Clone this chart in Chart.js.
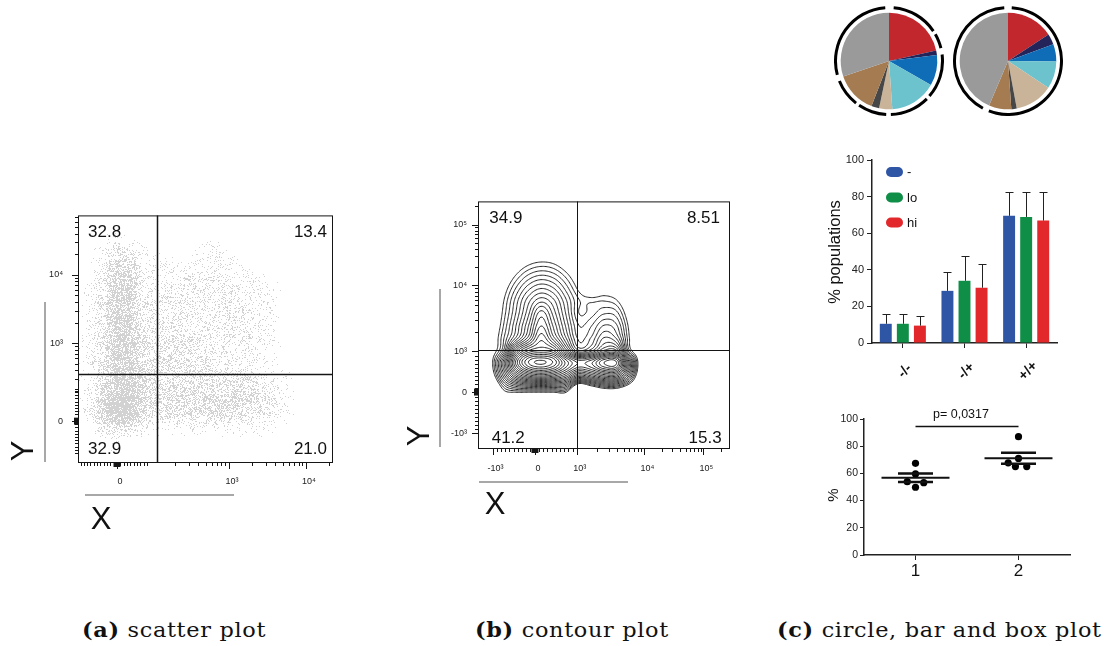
<!DOCTYPE html>
<html>
<head>
<meta charset="utf-8">
<title>Flow cytometry panels</title>
<script src="https://cdn.jsdelivr.net/npm/chart.js@4.4.1/dist/chart.umd.min.js"></script>
<style>
  html, body { margin: 0; padding: 0; background: #fff; }
  body { width: 1104px; height: 646px; position: relative; overflow: hidden; }
  canvas { position: absolute; }
  .cap { position: absolute; top: 620px; font: 20px 'DejaVu Serif', serif; line-height: 20px; letter-spacing: 0.6px;
         color: #111; white-space: nowrap; transform: scaleX(1.12); transform-origin: 0 0; }
  .cap b { font-weight: bold; }
</style>
</head>
<body>
<canvas id="scatter" width="345" height="345" style="left:0px;top:195px"></canvas>
<canvas id="contour" width="345" height="345" style="left:400px;top:185px"></canvas>
<canvas id="pieA" width="110" height="110" style="left:834px;top:6px"></canvas>
<canvas id="pieB" width="110" height="110" style="left:953px;top:6px"></canvas>
<canvas id="bars" width="260" height="250" style="left:810px;top:140px"></canvas>
<canvas id="dots" width="265" height="190" style="left:810px;top:400px"></canvas>
<div class="cap" style="left:82px"><b>(a)</b> scatter plot</div>
<div class="cap" style="left:475px"><b>(b)</b> contour plot</div>
<div class="cap" style="left:777px"><b>(c)</b> circle, bar and box plot</div>
<script>
// ---- (a) event density, rows from y=100 down to y=0, columns x=0..100 (step 5), 0-9
const scatterDensity = [
  '000000000000000000000',
  '000000000000000000000',
  '000100000000000000000',
  '001321000011000000000',
  '002551111111100000000',
  '002662111222111000000',
  '012772122222211100000',
  '013772222222211100000',
  '013773222222221100000',
  '013773232222221100000',
  '013774233322221100000',
  '013774333322221000000',
  '013774333332221100000',
  '014875433333332110000',
  '015886444444443210000',
  '017996444455554210000',
  '017995344444443210000',
  '003542111111111100000',
  '000100000000000000000',
  '000000000000000000000',
  '000000000000000000000',
];
const scatterXTicks = [15.3, 59.2, 89.4];
const scatterXLabels = ['0', '10³', '10⁴'];
const scatterYTicks = [16.9, 48.4, 76];
const scatterYLabels = ['0', '10³', '10⁴'];
const scatterGate = [31, 35.8];
const scatterQuadrants = ['32.8', '13.4', '32.9', '21.0'];

// ---- (b) contour level field on a 5-unit grid
const contourNodeX = [0, 5, 10, 15, 20, 25, 30, 35, 40, 45, 50, 55, 60, 65, 70];
const contourNodeY = [80, 75, 70, 65, 60, 55, 50, 45, 40, 35, 30, 25, 20, 15];
const contourField = [
  [-11.5, -8.6, -6.0, -3.9, -2.5, -1.9, -2.3, -3.6, -5.6, -8.1, -7.5, -8.0, -9.7, -12.5, -16],
  [-9.9, -6.8, -4.0, -1.6, 0.1, 0.8, 0.4, -1.2, -3.5, -6.2, -5.3, -5.8, -7.8, -10.9, -14.6],
  [-8.6, -5.3, -2.2, 0.6, 2.7, 3.6, 3.0, 1.1, -1.6, -4.5, -3.2, -3.7, -6.0, -9.3, -13.3],
  [-7.6, -4.1, -0.7, 2.5, 5.1, 6.4, 5.5, 3.0, 0.0, -2.5, -1.0, -1.7, -4.3, -8.0, -12.2],
  [-6.8, -3.3, 0.3, 3.9, 7.1, 9.1, 7.7, 4.6, 1.6, 1.2, 1.4, 0.6, -2.7, -6.8, -11.2],
  [-6.7, -3.0, 0.8, 4.5, 8.2, 11.9, 9.0, 5.3, 1.5, 2.0, 3.3, 2.8, -1.2, -5.8, -10.0],
  [-6.6, -2.6, 1.4, 5.4, 9.4, 13.4, 10.2, 6.2, 2.5, 3.4, 5.5, 4.6, 0.0, -5.0, -9.5],
  [-6.4, -2.1, 2.2, 6.5, 10.8, 15.1, 11.7, 7.4, 3.2, 4.6, 7.5, 6.2, 0.6, -4.6, -9.0],
  [-6.2, -1.6, 3.2, 12.2, 16.2, 17.2, 16.2, 10.6, 5.3, 6.8, 10.3, 10.3, 1.5, -3.5, -10.0],
  [-10.0, -0.9, 7.7, 16.7, 21.5, 22.8, 21.3, 17.1, 14.3, 15.3, 18.5, 18.5, 8.5, -3.0, -13.0],
  [-10.0, -2.0, 5.9, 12.2, 15.5, 16.5, 15.5, 12.9, 8.8, 10.3, 12.4, 12.4, 5.8, -4.0, -14.0],
  [-14.0, -6.0, 1.4, 4.0, 4.8, 5.0, 4.8, 4.2, -3.0, -0.6, 1.6, 1.6, -1.8, -8.0, -18.0],
  [-16.0, -10.0, -3.1, -4.3, -5.4, -5.7, -5.4, -4.6, -14.8, -11.5, -9.3, -9.3, -14.0, -16.0, -20.0],
  [-22, -18, -8, -12, -15, -16, -15, -13, -25, -22, -20, -20, -24, -25, -26],
];
const contourLevels = [0.5, 1.5, 2.5, 3.5, 4.5, 5.5, 6.5, 7.5, 8.5, 9.5, 10.5, 11.5,
  12.5, 13.5, 14.5, 15.5, 16.5, 17.5, 18.5, 19.5, 20.5, 21.5, 22.5];
const contourXTicks = [5.8, 22.6, 39.2, 66, 89.4];
const contourXLabels = ['-10³', '0', '10³', '10⁴', '10⁵'];
const contourYTicks = [6.3, 23, 39.4, 66.1, 90.6];
const contourYLabels = ['-10³', '0', '10³', '10⁴', '10⁵'];
const contourGate = [39.2, 39.8];
const contourQuadrants = ['34.9', '8.51', '41.2', '15.3'];

// ---- (c) subset composition, percent per slice clockwise from 12 o'clock
const subsetColors = ['#c1272d', '#24245a', '#0f6db7', '#6cc3cd', '#c9b399', '#474747', '#a57b51', '#9a9a9a'];
const pieLeft = [21.5, 1.5, 10.3, 15.6, 4.4, 2.6, 13.9, 30.2];
const pieRight = [15.8, 3.6, 5.8, 9.1, 12.8, 1.8, 7.5, 43.6];
// outer ring, degrees: gap, arc, gap, arc ...
const ringLeft = [5, 51, 4, 16, 7, 48, 4, 43, 5, 31, 4, 30, 7, 101, 4];
const ringRight = [4, 197, 7, 148, 4];

const genotypes = ['-/-', '-/+', '+/+'];
const seriesNames = ['-', 'lo', 'hi'];
const seriesColors = ['#2f55a5', '#0e8e46', '#e3282b'];
const negMeans = [10.5, 28.5, 69.5];
const negSd = [5.3, 10.2, 12.9];
const loMeans = [10.5, 34.0, 68.9];
const loSd = [5.3, 13.3, 13.8];
const hiMeans = [9.5, 30.2, 66.9];
const hiSd = [5.0, 12.9, 15.8];

const groupNames = ['1', '2'];
const group1X = [1, 1, 0.92, 1.08, 1];
const group1Y = [67.4, 59.6, 53.9, 53.2, 49.8];
const group2X = [2, 2, 1.9, 1.97, 2.08];
const group2Y = [87, 71, 67.8, 65, 65];
const pValueLabel = 'p= 0,0317';

// ---------------------------------------------------------------
Chart.defaults.font.family = "'Liberation Sans', Arial, sans-serif";
Chart.defaults.color = '#222';
Chart.defaults.animation = false;
Chart.defaults.events = [];
Chart.defaults.plugins.legend.display = false;
Chart.defaults.plugins.tooltip.enabled = false;

const SANS = "'Liberation Sans', Arial, sans-serif";

function decadeMinors(decades) {
  const out = [];
  decades.forEach(([a, b]) => {
    for (let m = 2; m <= 9; m++) out.push(a + (b - a) * Math.log10(m));
  });
  return out;
}
function evenMinors(from, to, n) {
  const out = [];
  for (let k = 0; k <= n; k++) out.push(from + ((to - from) * k) / n);
  return out;
}

// deterministic per-pixel threshold so the density reads as single events
function speckle(px, py) {
  let h = Math.imul(px, 374761393) ^ Math.imul(py, 668265263);
  h = Math.imul(h ^ (h >>> 13), 1274126177);
  h ^= h >>> 16;
  return (h >>> 0) / 4294967296;
}

function densityAt(xv, yv) {
  const gx = xv / 5, gy = (100 - yv) / 5;
  const i = Math.floor(gx), j = Math.floor(gy);
  if (i < 0 || j < 0 || i >= 20 || j >= 20) return 0;
  const fx = gx - i, fy = gy - j;
  const d = (r, c) => +scatterDensity[r][c];
  return (d(j, i) * (1 - fx) + d(j, i + 1) * fx) * (1 - fy) +
    (d(j + 1, i) * (1 - fx) + d(j + 1, i + 1) * fx) * fy;
}

function drawEvents(chart) {
  const { ctx, chartArea: a, scales: { x, y } } = chart;
  const left = Math.round(a.left), top = Math.round(a.top);
  const w = Math.round(a.right) - left, h = Math.round(a.bottom) - top;
  const img = ctx.getImageData(left, top, w, h);
  for (let py = 0; py < h; py++) {
    const yv = y.getValueForPixel(top + py + 0.5);
    for (let px = 0; px < w; px++) {
      const d = densityAt(x.getValueForPixel(left + px + 0.5), yv) / 10;
      if (d > 0 && speckle(left + px, top + py) < d) {
        const k = (py * w + px) * 4;
        img.data[k] = img.data[k + 1] = img.data[k + 2] = 210;
        img.data[k + 3] = 255;
      }
    }
  }
  ctx.putImageData(img, left, top);
}

function catmull(p0, p1, p2, p3, t) {
  return 0.5 * (2 * p1 + (p2 - p0) * t + (2 * p0 - 5 * p1 + 4 * p2 - p3) * t * t +
    (3 * p1 - p0 - 3 * p2 + p3) * t * t * t);
}
function fieldAt(xv, yv) {
  const nx = contourNodeX.length, ny = contourNodeY.length;
  const gx = (xv - contourNodeX[0]) / 5, gy = (contourNodeY[0] - yv) / 5;
  const i = Math.min(Math.max(Math.floor(gx), 0), nx - 2);
  const j = Math.min(Math.max(Math.floor(gy), 0), ny - 2);
  const t = gx - i, u = gy - j;
  const node = (c, r) => contourField[Math.min(Math.max(r, 0), ny - 1)][Math.min(Math.max(c, 0), nx - 1)];
  const rows = [];
  for (let r = j - 1; r <= j + 2; r++) {
    rows.push(catmull(node(i - 1, r), node(i, r), node(i + 1, r), node(i + 2, r), t));
  }
  return catmull(rows[0], rows[1], rows[2], rows[3], u);
}

function drawContours(chart) {
  const { ctx, scales: { x, y } } = chart;
  const step = 0.5;
  const xs = [], ys = [];
  for (let v = 0; v <= 70; v += step) xs.push(v);
  for (let v = 15; v <= 80; v += step) ys.push(v);
  const f = ys.map((yv) => xs.map((xv) => fieldAt(xv, yv)));
  ctx.save();
  ctx.beginPath();
  const seg = (p, q) => {
    ctx.moveTo(x.getPixelForValue(p[0]), y.getPixelForValue(p[1]));
    ctx.lineTo(x.getPixelForValue(q[0]), y.getPixelForValue(q[1]));
  };
  contourLevels.forEach((L) => {
    for (let r = 0; r < ys.length - 1; r++) {
      for (let c = 0; c < xs.length - 1; c++) {
        const vals = [f[r][c], f[r][c + 1], f[r + 1][c + 1], f[r + 1][c]];
        const pts = [[xs[c], ys[r]], [xs[c + 1], ys[r]], [xs[c + 1], ys[r + 1]], [xs[c], ys[r + 1]]];
        const cross = [];
        let n = 0;
        for (let k = 0; k < 4; k++) {
          const a = vals[k], b = vals[(k + 1) % 4];
          if ((a > L) !== (b > L)) {
            const t = (L - a) / (b - a);
            const pa = pts[k], pb = pts[(k + 1) % 4];
            cross[k] = [pa[0] + (pb[0] - pa[0]) * t, pa[1] + (pb[1] - pa[1]) * t];
            n++;
          }
        }
        if (n === 2) {
          const ks = [0, 1, 2, 3].filter((k) => cross[k]);
          seg(cross[ks[0]], cross[ks[1]]);
        } else if (n === 4) {
          const centre = (vals[0] + vals[1] + vals[2] + vals[3]) / 4 > L;
          for (let k = 0; k < 4; k++) {
            if ((vals[k] > L) !== centre) seg(cross[(k + 3) % 4], cross[k]);
          }
        }
      }
    }
  });
  ctx.strokeStyle = '#111';
  ctx.lineWidth = 0.9;
  ctx.stroke();
  ctx.restore();
}

function drawFacsFrame(chart, o) {
  const { ctx, chartArea: a, scales: { x, y } } = chart;
  ctx.save();
  ctx.strokeStyle = '#151515';
  ctx.fillStyle = '#151515';

  const gx = Math.round(x.getPixelForValue(o.gate[0])) + 0.5;
  const gy = Math.round(y.getPixelForValue(o.gate[1])) + 0.5;
  ctx.lineWidth = o.gateWidth;
  ctx.beginPath();
  ctx.moveTo(gx, a.top); ctx.lineTo(gx, a.bottom);
  ctx.moveTo(a.left, gy); ctx.lineTo(a.right, gy);
  ctx.stroke();

  ctx.lineWidth = 1;
  ctx.strokeRect(a.left + 0.5, a.top + 0.5, a.right - a.left - 1, a.bottom - a.top - 1);

  // axis tick marks, outside the frame
  ctx.beginPath();
  const inRange = (v) => v >= 0 && v <= 100;
  o.xMinor.filter(inRange).forEach((v) => {
    const p = Math.round(x.getPixelForValue(v)) + 0.5;
    ctx.moveTo(p, a.bottom); ctx.lineTo(p, a.bottom + 3);
  });
  o.xTicks.forEach((v) => {
    const p = Math.round(x.getPixelForValue(v)) + 0.5;
    ctx.moveTo(p, a.bottom); ctx.lineTo(p, a.bottom + 6);
  });
  o.yMinor.filter(inRange).forEach((v) => {
    const p = Math.round(y.getPixelForValue(v)) + 0.5;
    ctx.moveTo(a.left, p); ctx.lineTo(a.left - 3, p);
  });
  o.yTicks.forEach((v) => {
    const p = Math.round(y.getPixelForValue(v)) + 0.5;
    ctx.moveTo(a.left, p); ctx.lineTo(a.left - 6, p);
  });
  ctx.stroke();
  const zx = x.getPixelForValue(o.xTicks[o.zeroIndex[0]]);
  const zy = y.getPixelForValue(o.yTicks[o.zeroIndex[1]]);
  ctx.fillRect(zx - 3.5, a.bottom, 7, 4);
  ctx.fillRect(a.left - 4, zy - 3.5, 4, 7);

  // quadrant frequencies
  const q = o.quadInset;
  ctx.font = '17px ' + SANS;
  ctx.fillStyle = '#111';
  ctx.textBaseline = 'alphabetic';
  ctx.textAlign = 'left';
  ctx.fillText(o.quadrants[0], a.left + q.tl[0], a.top + q.tl[1]);
  ctx.fillText(o.quadrants[2], a.left + q.bl[0], a.bottom - q.bl[1]);
  ctx.textAlign = 'right';
  ctx.fillText(o.quadrants[1], a.right - q.tr[0], a.top + q.tr[1]);
  ctx.fillText(o.quadrants[3], a.right - q.br[0], a.bottom - q.br[1]);

  // parameter bars and names
  const m = o.marks;
  ctx.strokeStyle = '#8c8c8c';
  ctx.lineWidth = 1.5;
  ctx.beginPath();
  ctx.moveTo(m.yLine[0], m.yLine[1]); ctx.lineTo(m.yLine[0], m.yLine[2]);
  ctx.moveTo(m.xLine[0], m.xLine[2]); ctx.lineTo(m.xLine[1], m.xLine[2]);
  ctx.stroke();
  ctx.fillStyle = '#111';
  ctx.font = '31px ' + SANS;
  ctx.textAlign = 'center';
  ctx.fillText('X', m.xGlyph[0], m.xGlyph[1] + 11);
  ctx.translate(m.yGlyph[0], m.yGlyph[1]);
  ctx.rotate(-Math.PI / 2);
  ctx.fillText('Y', 0, 11);
  ctx.restore();
}

function facsChart(id, o) {
  const axis = (vals, labels, pad, fit, shift) => ({
    type: 'linear',
    min: 0,
    max: 100,
    afterBuildTicks: (s) => { s.ticks = vals.map((value) => ({ value })); },
    afterFit: fit,
    ticks: {
      callback: (v, i) => labels[i],
      font: { size: 9 },
      color: '#222',
      padding: pad,
      labelOffset: shift,
      maxRotation: 0,
      autoSkip: false,
    },
    grid: { display: false, drawTicks: false },
    border: { display: false },
  });
  return new Chart(document.getElementById(id), {
    type: 'scatter',
    data: { datasets: [{ data: [], pointRadius: 0 }] },
    options: {
      responsive: false,
      layout: { padding: o.padding },
      scales: {
        x: axis(o.xTicks, o.xLabels, o.xPad, (s) => { s.height = 30; }, 3),
        y: axis(o.yTicks, o.yLabels, o.yPad, (s) => { s.width = o.yWidth; }, 0),
      },
    },
    plugins: [{
      id: 'facs',
      beforeDatasetsDraw: (chart) => o.body(chart),
      afterDraw: (chart) => drawFacsFrame(chart, o),
    }],
  });
}

facsChart('scatter', {
  padding: { left: 48, right: 12, top: 14, bottom: 47 },
  yWidth: 30,
  xPad: 13,
  yPad: 15,
  xTicks: scatterXTicks,
  xLabels: scatterXLabels,
  yTicks: scatterYTicks,
  yLabels: scatterYLabels,
  xMinor: evenMinors(1, 27, 20).concat(decadeMinors([[29, 59.2], [59.2, 89.4], [89.4, 119.6]])),
  yMinor: evenMinors(4, 30, 20).concat(decadeMinors([[20.8, 48.4], [48.4, 76], [76, 103.6]])),
  zeroIndex: [0, 0],
  gate: scatterGate,
  gateWidth: 1.5,
  quadrants: scatterQuadrants,
  quadInset: { tl: [10, 22], tr: [6, 22], bl: [10, 9], br: [6, 9] },
  marks: { yLine: [45, 107, 267], xLine: [85, 234, 300], yGlyph: [21.5, 256], xGlyph: [101, 323] },
  body: drawEvents,
});

facsChart('contour', {
  padding: { left: 46, right: 15, top: 15, bottom: 51 },
  yWidth: 32,
  xPad: 14,
  yPad: 11,
  xTicks: contourXTicks,
  xLabels: contourXLabels,
  yTicks: contourYTicks,
  yLabels: contourYLabels,
  xMinor: evenMinors(5.8, 39.2, 20).concat(decadeMinors([[39.2, 66], [66, 89.4], [89.4, 112.8]])),
  yMinor: evenMinors(6.3, 39.4, 20).concat(decadeMinors([[39.4, 66.1], [66.1, 90.6], [90.6, 115.1]])),
  zeroIndex: [1, 1],
  gate: contourGate,
  gateWidth: 1,
  quadrants: contourQuadrants,
  quadInset: { tl: [11.3, 21.7], tr: [10, 21.7], bl: [13.7, 5.7], br: [8.3, 5.7] },
  marks: { yLine: [40, 104, 262], xLine: [79, 228, 297], yGlyph: [17.5, 251], xGlyph: [95, 318] },
  body: drawContours,
});

// ---- pies with segmented outer ring
function pieChart(id, slices, ring) {
  return new Chart(document.getElementById(id), {
    type: 'doughnut',
    data: {
      datasets: [
        { data: ring, backgroundColor: ring.map((_, i) => (i % 2 ? '#000' : 'rgba(0,0,0,0)')), borderWidth: 0, weight: 3 },
        { data: [1], backgroundColor: 'rgba(0,0,0,0)', borderWidth: 0, weight: 3.7 },
        { data: slices, backgroundColor: subsetColors, borderWidth: 0, weight: 48.3 },
      ],
    },
    options: { responsive: false, cutout: 0, layout: { padding: 0 } },
  });
}
pieChart('pieA', pieLeft, ringLeft);
pieChart('pieB', pieRight, ringRight);

// ---- grouped bars with upper SD whiskers
const barExtras = {
  id: 'barExtras',
  afterDatasetsDraw(chart) {
    const { ctx, scales: { y } } = chart;
    ctx.save();
    ctx.strokeStyle = '#222';
    ctx.lineWidth = 1;
    chart.data.datasets.forEach((ds, di) => {
      chart.getDatasetMeta(di).data.forEach((bar, i) => {
        const top = Math.round(y.getPixelForValue(ds.data[i] + ds.sd[i])) + 0.5;
        const bx = Math.round(bar.x) + 0.5;
        ctx.beginPath();
        ctx.moveTo(bx, bar.y); ctx.lineTo(bx, top);
        ctx.moveTo(bx - 4, top); ctx.lineTo(bx + 4, top);
        ctx.stroke();
      });
    });
    ctx.restore();
  },
  afterDraw(chart) {
    const { ctx, chartArea: a, scales: { x } } = chart;
    ctx.save();
    // legend
    ctx.font = '13px ' + SANS;
    ctx.textBaseline = 'middle';
    ctx.textAlign = 'left';
    chart.data.datasets.forEach((ds, i) => {
      const cy = [32, 57.5, 82.5][i];
      ctx.fillStyle = ds.backgroundColor;
      ctx.beginPath();
      ctx.roundRect(76, cy - 5, 17, 10, 5);
      ctx.fill();
      ctx.fillStyle = '#111';
      ctx.fillText(ds.label, 97, cy + 0.5);
    });
    // genotype labels
    ctx.font = 'bold 14px ' + SANS;
    ctx.textAlign = 'center';
    genotypes.forEach((g, i) => {
      ctx.save();
      ctx.translate(x.getPixelForValue(i) + 2, a.bottom + 28);
      ctx.rotate(-Math.PI / 4);
      ctx.fillText(g, 0, 0);
      ctx.restore();
    });
    // axis title
    ctx.font = '16.5px ' + SANS;
    ctx.translate(25, 112);
    ctx.rotate(-Math.PI / 2);
    ctx.fillText('% populations', 0, 0);
    ctx.restore();
  },
};

new Chart(document.getElementById('bars'), {
  type: 'bar',
  data: {
    labels: genotypes,
    datasets: [
      { label: seriesNames[0], data: negMeans, sd: negSd, backgroundColor: seriesColors[0] },
      { label: seriesNames[1], data: loMeans, sd: loSd, backgroundColor: seriesColors[1] },
      { label: seriesNames[2], data: hiMeans, sd: hiSd, backgroundColor: seriesColors[2] },
    ],
  },
  options: {
    responsive: false,
    layout: { padding: { left: 32, right: 13, top: 20, bottom: 17 } },
    datasets: { bar: { categoryPercentage: 0.83, barPercentage: 0.7 } },
    scales: {
      x: {
        afterFit: (s) => { s.height = 30; },
        ticks: { display: false },
        grid: { drawOnChartArea: false, offset: false, tickLength: 5, tickColor: '#222' },
        border: { color: '#222', width: 1.5 },
      },
      y: {
        min: 0,
        max: 100,
        afterFit: (s) => { s.width = 30; },
        ticks: { stepSize: 20, font: { size: 11 }, padding: 3, color: '#222' },
        grid: { drawOnChartArea: false, tickLength: 5, tickColor: '#222' },
        border: { color: '#222', width: 1.5 },
      },
    },
  },
  plugins: [barExtras],
});

// ---- individual values with mean and SEM
function meanSem(v) {
  const mean = v.reduce((s, a) => s + a, 0) / v.length;
  const sd = Math.sqrt(v.reduce((s, a) => s + (a - mean) ** 2, 0) / (v.length - 1));
  return [mean, sd / Math.sqrt(v.length)];
}
const dotExtras = {
  id: 'dotExtras',
  afterDatasetsDraw(chart) {
    const { ctx, scales: { x, y } } = chart;
    ctx.save();
    ctx.strokeStyle = '#111';
    [group1Y, group2Y].forEach((vals, g) => {
      const [mean, sem] = meanSem(vals);
      const cx = g + 1;
      ctx.lineWidth = 2;
      ctx.beginPath();
      ctx.moveTo(x.getPixelForValue(cx - 0.33), y.getPixelForValue(mean));
      ctx.lineTo(x.getPixelForValue(cx + 0.33), y.getPixelForValue(mean));
      ctx.stroke();
      ctx.lineWidth = 2.5;
      ctx.beginPath();
      [mean - sem, mean + sem].forEach((v) => {
        ctx.moveTo(x.getPixelForValue(cx - 0.17), y.getPixelForValue(v));
        ctx.lineTo(x.getPixelForValue(cx + 0.17), y.getPixelForValue(v));
      });
      ctx.stroke();
    });
    // significance bracket
    const by = y.getPixelForValue(94.4);
    ctx.lineWidth = 1.5;
    ctx.beginPath();
    ctx.moveTo(x.getPixelForValue(1), by);
    ctx.lineTo(x.getPixelForValue(2), by);
    ctx.stroke();
    ctx.fillStyle = '#111';
    ctx.font = '12.5px ' + SANS;
    ctx.textAlign = 'center';
    ctx.fillText(pValueLabel, x.getPixelForValue(1.5) - 6, by - 9);
    ctx.font = '15px ' + SANS;
    ctx.translate(23, 95);
    ctx.rotate(-Math.PI / 2);
    ctx.fillText('%', 0, 5);
    ctx.restore();
  },
};

new Chart(document.getElementById('dots'), {
  type: 'scatter',
  data: {
    datasets: [
      { data: group1X.map((v, i) => ({ x: v, y: group1Y[i] })), backgroundColor: '#000', borderWidth: 0, pointRadius: 3.6 },
      { data: group2X.map((v, i) => ({ x: v, y: group2Y[i] })), backgroundColor: '#000', borderWidth: 0, pointRadius: 3.6 },
    ],
  },
  options: {
    responsive: false,
    clip: false,
    layout: { padding: { left: 24, right: 5, top: 19, bottom: 10 } },
    scales: {
      x: {
        min: 0.5,
        max: 2.5,
        afterBuildTicks: (s) => { s.ticks = [{ value: 1 }, { value: 2 }]; },
        afterFit: (s) => { s.height = 25; },
        ticks: { callback: (v, i) => groupNames[i], font: { size: 17 }, padding: 1, color: '#111' },
        grid: { drawOnChartArea: false, tickLength: 5, tickColor: '#222' },
        border: { color: '#222', width: 1.5 },
      },
      y: {
        min: 0,
        max: 100,
        afterFit: (s) => { s.width = 30; },
        ticks: { stepSize: 20, font: { size: 10.5 }, padding: 2, color: '#222' },
        grid: { drawOnChartArea: false, tickLength: 4, tickColor: '#222' },
        border: { color: '#222', width: 1.5 },
      },
    },
  },
  plugins: [dotExtras],
});
</script>
</body>
</html>
